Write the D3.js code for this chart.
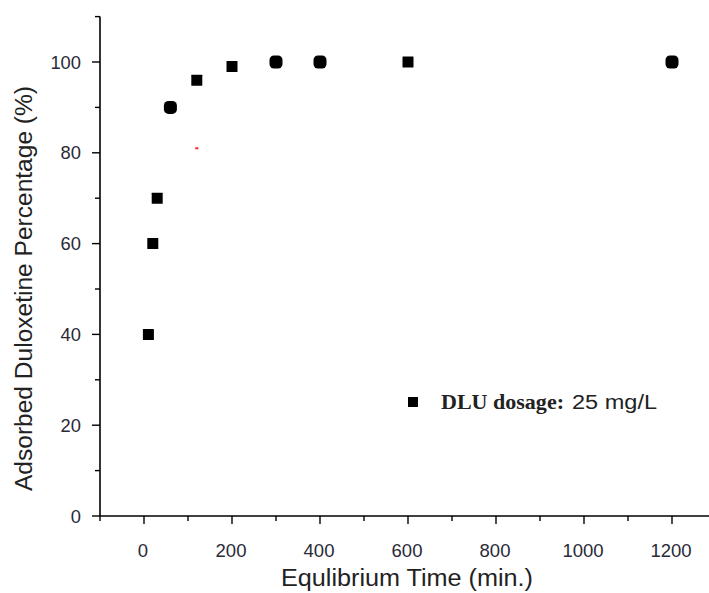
<!DOCTYPE html>
<html><head><meta charset="utf-8">
<script src="https://cdn.jsdelivr.net/npm/d3@7"></script>
<style>body{margin:0;background:#fff}svg{display:block}</style>
</head><body><svg id="c" width="709" height="593"></svg>
<script>
const times = [10, 20, 30, 60, 120, 200, 300, 400, 600, 1200];
const adsorbed = [40, 60, 70, 90, 96, 99, 100, 100, 100, 100];
const shapes = ["sq","sq","sq","ci","sq","sq","ci","ci","sq","ci"];
const xTicks = [0, 200, 400, 600, 800, 1000, 1200];
const yTicks = [0, 20, 40, 60, 80, 100];
const artifactX = [120], artifactY = [81];

const svg = d3.select("#c");
const x = d3.scaleLinear().domain([-100, 1300]).range([100, 716]);
const y = d3.scaleLinear().domain([0, 110]).range([516, 16.6]);
const sans = "Liberation Sans, Arial, sans-serif";

// axes
const xMinor = d3.range(-100, 1300, 100);
const yMinor = d3.range(10, 111, 20);
const g = svg.append("g");
g.append("line").attr("x1", x(-100)).attr("x2", 709).attr("y1", y(0)).attr("y2", y(0)).attr("stroke", "#000").attr("stroke-width", 1.6);
g.append("line").attr("x1", x(-100)).attr("x2", x(-100)).attr("y1", y(0)).attr("y2", y(110)).attr("stroke", "#000").attr("stroke-width", 1.6);
g.selectAll(".xmaj").data(xTicks).join("line").attr("x1", d => x(d)).attr("x2", d => x(d)).attr("y1", y(0)).attr("y2", y(0) + 8).attr("stroke", "#000").attr("stroke-width", 1.4);
g.selectAll(".xmin").data(xMinor.filter(d => !xTicks.includes(d))).join("line").attr("x1", d => x(d)).attr("x2", d => x(d)).attr("y1", y(0)).attr("y2", y(0) + 5).attr("stroke", "#000").attr("stroke-width", 1.4);
g.selectAll(".ymaj").data(yTicks).join("line").attr("x1", x(-100) - 8).attr("x2", x(-100)).attr("y1", d => y(d)).attr("y2", d => y(d)).attr("stroke", "#000").attr("stroke-width", 1.4);
g.selectAll(".ymin").data(yMinor).join("line").attr("x1", x(-100) - 5).attr("x2", x(-100)).attr("y1", d => y(d)).attr("y2", d => y(d)).attr("stroke", "#000").attr("stroke-width", 1.4);

g.selectAll(".xl").data(xTicks).join("text").attr("x", d => x(d) - 1).attr("y", 557)
  .attr("text-anchor", "middle").attr("font-family", sans).attr("font-size", 19).attr("fill", "#2a2a38")
  .attr("textLength", d => String(d).length * 10.3).attr("lengthAdjust", "spacingAndGlyphs").text(d => d);
g.selectAll(".yl").data(yTicks).join("text").attr("x", 81).attr("y", d => y(d) + 6.5)
  .attr("text-anchor", "end").attr("font-family", sans).attr("font-size", 19).attr("fill", "#2a2a38")
  .attr("textLength", d => String(d).length * 10.2).attr("lengthAdjust", "spacingAndGlyphs")
  .text(d => d);

svg.append("text").attr("x", 281).attr("y", 586)
  .attr("font-family", sans).attr("font-size", 23).attr("fill", "#222")
  .attr("textLength", 252).attr("lengthAdjust", "spacingAndGlyphs")
  .text("Equlibrium Time (min.)");
svg.append("text").attr("transform", "translate(32,491) rotate(-90)")
  .attr("font-family", sans).attr("font-size", 23).attr("fill", "#222")
  .attr("textLength", 405).attr("lengthAdjust", "spacingAndGlyphs")
  .text("Adsorbed Duloxetine Percentage (%)");

// points
const data = times.map((t, i) => ({t, v: adsorbed[i], s: shapes[i]}));
svg.selectAll(".pt").data(data).join("rect")
  .attr("x", d => x(d.t) - (d.s === "ci" ? 6.5 : 5.5))
  .attr("y", d => y(d.v) - (d.s === "ci" ? 6.5 : 5.5))
  .attr("width", d => d.s === "ci" ? 13 : 11)
  .attr("height", d => d.s === "ci" ? 13 : 11)
  .attr("rx", d => d.s === "ci" ? 4.5 : 0.5)
  .attr("fill", "#000");
svg.selectAll(".art").data(artifactX).join("rect")
  .attr("x", (d) => x(d) - 1.5).attr("y", (d, i) => y(artifactY[i]) - 1).attr("width", 3).attr("height", 2).attr("fill", "#f22");

// legend
svg.append("rect").attr("x", 408).attr("y", 397).attr("width", 10).attr("height", 10).attr("fill", "#000");
svg.append("text").attr("x", 441).attr("y", 409).attr("font-size", 20).attr("fill", "#222")
  .attr("font-family", "Liberation Serif, Times New Roman, serif").attr("font-weight", "bold")
  .attr("textLength", 123).attr("lengthAdjust", "spacingAndGlyphs").text("DLU dosage:");
svg.append("text").attr("x", 572).attr("y", 409).attr("font-size", 20).attr("fill", "#222")
  .attr("font-family", sans).attr("textLength", 85).attr("lengthAdjust", "spacingAndGlyphs").text("25 mg/L");
</script></body></html>
